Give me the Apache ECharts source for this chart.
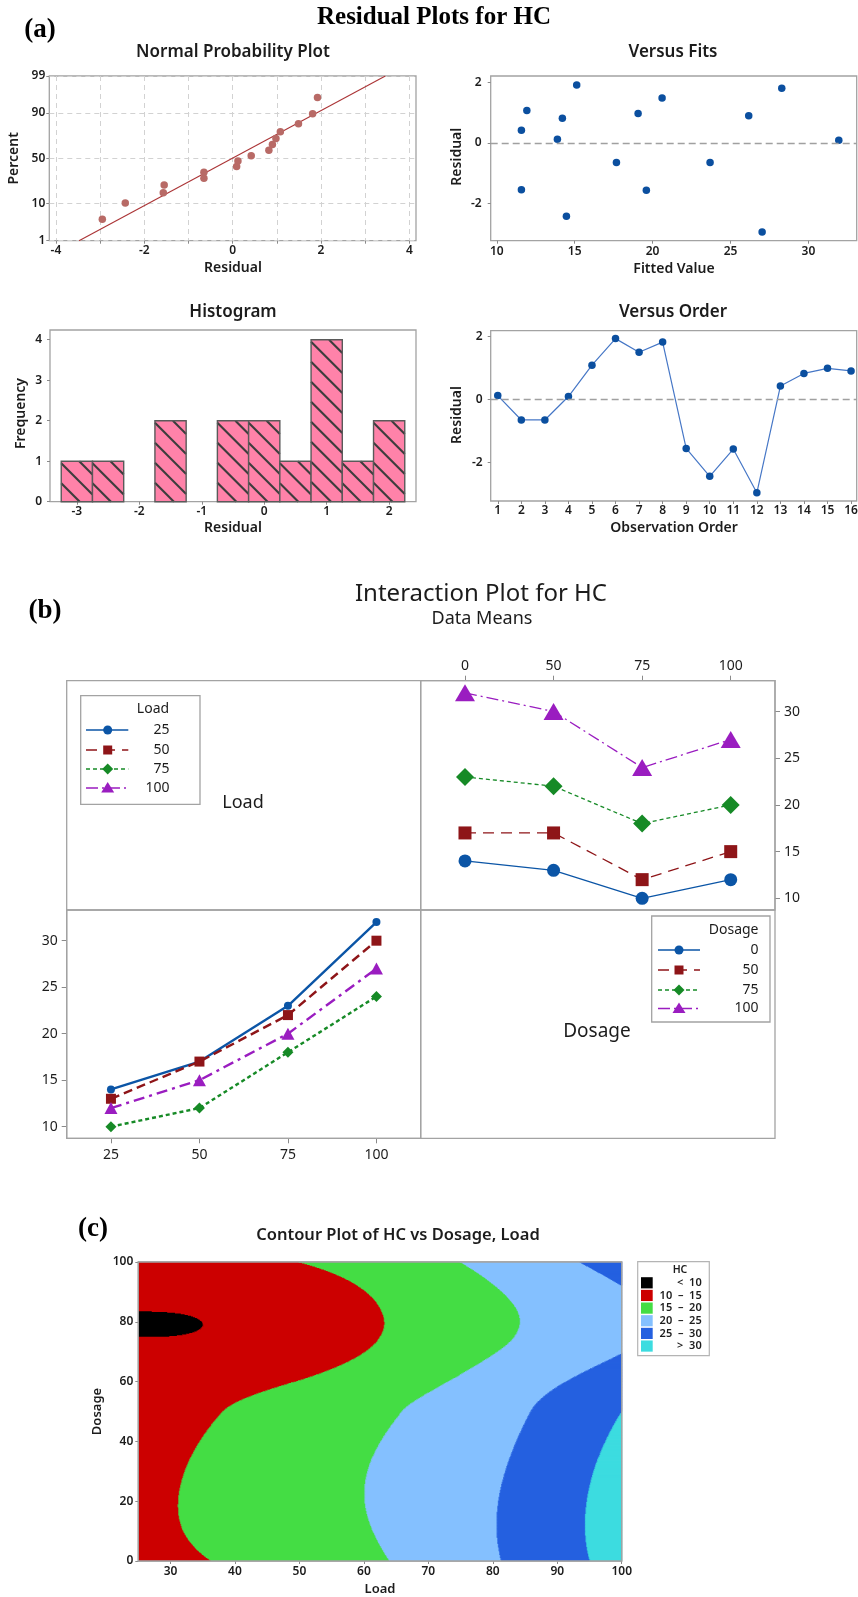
<!DOCTYPE html>
<html>
<head>
<meta charset="utf-8">
<title>Residual, interaction and contour plots for HC</title>
<script src="https://cdn.jsdelivr.net/npm/echarts/dist/echarts.min.js"></script>
<style>
  html, body { margin: 0; padding: 0; background: #ffffff; }
  #chart { width: 858px; height: 1597px; }
</style>
</head>
<body>
<div id="chart"></div>
<script>
// ---------------- data ----------------
// residuals and fitted values, in observation order
const observationOrder = [1, 2, 3, 4, 5, 6, 7, 8, 9, 10, 11, 12, 13, 14, 15, 16];
const residuals = [0.12, -0.65, -0.65, 0.09, 1.08, 1.92, 1.49, 1.81, -1.55, -2.43, -1.57, -2.95, 0.42, 0.82, 0.98, 0.90];
const fittedValues = [13.89, 17.68, 23.69, 31.95, 11.93, 15.13, 20.61, 28.29, 11.58, 14.47, 19.60, 27.03, 11.58, 14.21, 19.07, 26.17];
// normal probability plot: percent position of each ordered residual
const probPercents = [4.3, 10.4, 16.5, 22.6, 28.7, 34.8, 40.9, 47.0, 53.0, 59.1, 65.2, 71.3, 77.4, 83.5, 89.6, 95.7];
const percentTicks = [1, 10, 50, 90, 99];
// histogram of residuals
const histBinCenters = [-3, -2.5, -2, -1.5, -1, -0.5, 0, 0.5, 1, 1.5, 2];
const histCounts = [1, 1, 0, 2, 0, 2, 2, 1, 4, 1, 2];
// HC means by factor level (values in Load order 25, 50, 75, 100)
const loadLevels = ['25', '50', '75', '100'];
const dosageLevels = ['0', '50', '75', '100'];
const hcDosage0 = [14, 17, 23, 32];
const hcDosage50 = [13, 17, 22, 30];
const hcDosage75 = [10, 12, 18, 24];
const hcDosage100 = [12, 15, 20, 27];
// contour class boundaries
const hcContourLevels = [10, 15, 20, 25, 30];

// ---------------- styling ----------------
const FONT = '"Noto Sans", "Open Sans", sans-serif';
const SERIF = '"Liberation Serif", "Times New Roman", serif';
const TEXT = '#1c1c1c';
const FRAME = '#a3a3a3';
const seriesColors = ['#0b55a6', '#8e1518', '#168a26', '#9a1dc0'];
const contourColors = ['#000000', '#cc0000', '#44dd44', '#84c0ff', '#2460e0', '#3cdce0'];

// ---------------- helpers ----------------
function normInv(p) {
  const a = [-3.969683028665376e+01, 2.209460984245205e+02, -2.759285104469687e+02, 1.383577518672690e+02, -3.066479806614716e+01, 2.506628277459239e+00];
  const b = [-5.447609879822406e+01, 1.615858368580409e+02, -1.556989798598866e+02, 6.680131188771972e+01, -1.328068155288572e+01];
  const c = [-7.784894002430293e-03, -3.223964580411365e-01, -2.400758277161838e+00, -2.549732539343734e+00, 4.374664141464968e+00, 2.938163982698783e+00];
  const d = [7.784695709041462e-03, 3.224671290700398e-01, 2.445134137142996e+00, 3.754408661907416e+00];
  const pl = 0.02425;
  if (p < pl) {
    const q = Math.sqrt(-2 * Math.log(p));
    return (((((c[0] * q + c[1]) * q + c[2]) * q + c[3]) * q + c[4]) * q + c[5]) / ((((d[0] * q + d[1]) * q + d[2]) * q + d[3]) * q + 1);
  }
  if (p > 1 - pl) {
    const q = Math.sqrt(-2 * Math.log(1 - p));
    return -(((((c[0] * q + c[1]) * q + c[2]) * q + c[3]) * q + c[4]) * q + c[5]) / ((((d[0] * q + d[1]) * q + d[2]) * q + d[3]) * q + 1);
  }
  const q = p - 0.5, r = q * q;
  return (((((a[0] * r + a[1]) * r + a[2]) * r + a[3]) * r + a[4]) * r + a[5]) * q / (((((b[0] * r + b[1]) * r + b[2]) * r + b[3]) * r + b[4]) * r + 1);
}

// Akima slopes / evaluation used for the contour surface
function akimaSlopes(xs, ys) {
  const n = xs.length;
  const mm = new Array(n + 3);
  for (let i = 0; i < n - 1; i++) mm[i + 2] = (ys[i + 1] - ys[i]) / (xs[i + 1] - xs[i]);
  mm[1] = 2 * mm[2] - mm[3];
  mm[0] = 2 * mm[1] - mm[2];
  mm[n + 1] = 2 * mm[n] - mm[n - 1];
  mm[n + 2] = 2 * mm[n + 1] - mm[n];
  const t = [];
  for (let i = 0; i < n; i++) {
    const w1 = Math.abs(mm[i + 3] - mm[i + 2]);
    const w2 = Math.abs(mm[i + 1] - mm[i]);
    t.push(w1 + w2 < 1e-12 ? (mm[i + 1] + mm[i + 2]) / 2 : (w1 * mm[i + 1] + w2 * mm[i + 2]) / (w1 + w2));
  }
  return t;
}
function akimaEval(xs, ys, t, x) {
  let i = 0;
  while (i < xs.length - 2 && x > xs[i + 1]) i++;
  const h = xs[i + 1] - xs[i], s = (x - xs[i]) / h, s2 = s * s, s3 = s2 * s;
  return (2 * s3 - 3 * s2 + 1) * ys[i] + (s3 - 2 * s2 + s) * h * t[i] + (-2 * s3 + 3 * s2) * ys[i + 1] + (s3 - s2) * h * t[i + 1];
}

function valueAxis(o) {
  return {
    type: 'value', gridIndex: o.grid, min: o.min, max: o.max, position: o.position,
    axisLine: { show: false, onZero: false },
    axisTick: { show: true, customValues: o.ticks, length: o.tickLen || 3, lineStyle: { color: '#8a8a8a', width: 1 } },
    axisLabel: {
      customValues: o.labels || o.ticks, fontSize: o.fs || 12, fontWeight: o.fw || 600,
      color: TEXT, fontFamily: FONT, margin: o.margin, formatter: o.formatter || null
    },
    splitLine: o.split ? { show: true, lineStyle: { color: '#d2d2d2', type: [5, 4], width: 1 } } : { show: false }
  };
}
function categoryAxis(o) {
  return {
    type: 'category', gridIndex: o.grid, data: o.data, position: o.position, boundaryGap: true,
    axisLine: { show: false, onZero: false },
    axisTick: { show: true, alignWithLabel: true, length: 5, lineStyle: { color: '#8a8a8a', width: 1 } },
    axisLabel: { fontSize: 14, color: TEXT, fontFamily: FONT, margin: o.margin },
    splitLine: { show: false }
  };
}
function valueAxisIP(o) {
  return valueAxis(Object.assign({ fs: 14, fw: 'normal', tickLen: 5 }, o));
}
function txt(x, y, text, size, weight, extra) {
  const e = {
    type: 'text', x: x, y: y, z: 100,
    style: {
      text: text, fontSize: size, fontWeight: weight, fontFamily: FONT, fill: TEXT,
      align: 'center', verticalAlign: 'middle'
    }
  };
  return Object.assign(e, extra || {});
}
function serifTxt(x, y, text, size) {
  const e = txt(x, y, text, size, 'bold');
  e.style.fontFamily = SERIF;
  e.style.fill = '#000000';
  return e;
}
function panelGrid(left, top, width, height) {
  return { left: left, top: top, width: width, height: height, show: true, borderColor: FRAME, borderWidth: 1.3, backgroundColor: 'transparent', containLabel: false, outerBoundsMode: 'none' };
}

// ---------------- derived values ----------------
const sortedResiduals = residuals.slice().sort((a, b) => a - b);
const resMean = residuals.reduce((s, v) => s + v, 0) / residuals.length;
const resSd = Math.sqrt(residuals.reduce((s, v) => s + (v - resMean) * (v - resMean), 0) / (residuals.length - 1));
const zMin = normInv(percentTicks[0] / 100);
const zMax = normInv(percentTicks[percentTicks.length - 1] / 100);
const zTicks = percentTicks.map(p => normInv(p / 100));

const hcByDosage = [hcDosage0, hcDosage50, hcDosage75, hcDosage100];
const hcByLoad = loadLevels.map((_, j) => hcByDosage.map(row => row[j]));
const loadNum = loadLevels.map(Number);
const dosageNum = dosageLevels.map(Number);

// contour cells: interpolated surface, split into runs of equal HC class
function hcClass(v) {
  let k = 0;
  while (k < hcContourLevels.length && v >= hcContourLevels[k]) k++;
  return k;
}
const contourCells = [];
(function buildContour() {
  const colSlopes = hcByLoad.map(col => akimaSlopes(dosageNum, col));
  const dStep = 0.25, lStep = 0.1;
  const dMin = dosageNum[0], dMax = dosageNum[dosageNum.length - 1];
  const lMin = loadNum[0], lMax = loadNum[loadNum.length - 1];
  const nD = Math.round((dMax - dMin) / dStep), nL = Math.round((lMax - lMin) / lStep);
  for (let yi = 0; yi <= nD; yi++) {
    const yv = dMin + yi * dStep;
    const y0 = Math.max(dMin, yv - dStep / 2), y1 = Math.min(dMax, yv + dStep / 2);
    const rowVals = hcByLoad.map((col, j) => akimaEval(dosageNum, col, colSlopes[j], yv));
    const rowSlopes = akimaSlopes(loadNum, rowVals);
    let start = lMin, cls = null;
    for (let xi = 0; xi <= nL; xi++) {
      const xv = lMin + xi * lStep;
      const c = hcClass(akimaEval(loadNum, rowVals, rowSlopes, xv));
      if (cls === null) { cls = c; }
      else if (c !== cls) {
        const edge = xv - lStep / 2;
        contourCells.push([start, edge, y0, y1, cls]);
        start = edge; cls = c;
      }
    }
    contourCells.push([start, lMax, y0, y1, cls]);
  }
})();

// ---------------- chart ----------------
const chart = echarts.init(document.getElementById('chart'), null, { renderer: 'canvas', width: 858, height: 1597 });

const grids = [
  panelGrid(49.3, 76, 366.7, 164.7),     // 0 normal probability
  panelGrid(490.7, 76, 366, 164.7),      // 1 versus fits
  panelGrid(50, 330, 366, 171.7),        // 2 histogram
  panelGrid(490.7, 330.7, 366, 170.3),   // 3 versus order
  panelGrid(420.7, 680.7, 354.3, 229.3), // 4 HC vs Dosage by Load
  panelGrid(66.7, 910, 354, 228.3),      // 5 HC vs Load by Dosage
  panelGrid(138.3, 1262, 483.4, 299)     // 6 contour
];

const xAxes = [
  valueAxis({ grid: 0, min: -4.15, max: 4.15, ticks: [-4, -3, -2, -1, 0, 1, 2, 3, 4], labels: [-4, -2, 0, 2, 4], split: true, margin: 4 }),
  valueAxis({ grid: 1, min: 9.61, max: 33.1, ticks: [10, 15, 20, 25, 30], margin: 5 }),
  valueAxis({ grid: 2, min: -3.43, max: 2.43, ticks: [-3, -2, -1, 0, 1, 2], margin: 4 }),
  valueAxis({ grid: 3, min: 0.7, max: 16.24, ticks: observationOrder, margin: 4 }),
  categoryAxis({ grid: 4, data: dosageLevels, position: 'top', margin: 8 }),
  categoryAxis({ grid: 5, data: loadLevels, position: 'bottom', margin: 10 }),
  valueAxis({ grid: 6, min: loadNum[0], max: loadNum[3], ticks: [30, 40, 50, 60, 70, 80, 90, 100], margin: 5 })
];
const yAxes = [
  valueAxis({
    grid: 0, min: zMin, max: zMax, ticks: zTicks, split: true, margin: 4,
    formatter: function (v) {
      let best = 0;
      zTicks.forEach((z, i) => { if (Math.abs(z - v) < Math.abs(zTicks[best] - v)) best = i; });
      return String(percentTicks[best]);
    }
  }),
  valueAxis({ grid: 1, min: -3.24, max: 2.22, ticks: [-2, 0, 2], margin: 9 }),
  valueAxis({ grid: 2, min: 0, max: 4.24, ticks: [0, 1, 2, 3, 4], margin: 8 }),
  valueAxis({ grid: 3, min: -3.21, max: 2.17, ticks: [-2, 0, 2], margin: 8 }),
  valueAxisIP({ grid: 4, min: 8.75, max: 33.3, ticks: [10, 15, 20, 25, 30], position: 'right', margin: 9 }),
  valueAxisIP({ grid: 5, min: 8.75, max: 33.3, ticks: [10, 15, 20, 25, 30], position: 'left', margin: 9 }),
  valueAxis({ grid: 6, min: 0, max: 100, ticks: [0, 20, 40, 60, 80, 100], margin: 5 })
];

const zeroLine = {
  silent: true, symbol: ['none', 'none'], label: { show: false },
  lineStyle: { color: '#a0a0a0', type: [7, 4], width: 1.4 },
  data: [{ yAxis: 0 }]
};

const binHalf = (histBinCenters[1] - histBinCenters[0]) / 2;

const series = [];
// normal probability plot
series.push({
  type: 'line', xAxisIndex: 0, yAxisIndex: 0, symbol: 'none', silent: true,
  data: [[resMean + resSd * zMin, zMin], [resMean + resSd * zMax, zMax]],
  lineStyle: { color: '#ab3436', width: 1.1 }, z: 2
});
series.push({
  type: 'scatter', xAxisIndex: 0, yAxisIndex: 0, symbolSize: 7.5, silent: true,
  data: sortedResiduals.map((r, i) => [r, normInv(probPercents[i] / 100)]),
  itemStyle: { color: '#b86a66', opacity: 1 }, z: 3
});
// versus fits
series.push({
  type: 'scatter', xAxisIndex: 1, yAxisIndex: 1, symbolSize: 7.5, silent: true,
  data: fittedValues.map((f, i) => [f, residuals[i]]),
  itemStyle: { color: '#0b4f9f', opacity: 1 }, markLine: zeroLine, z: 3
});
// histogram with hatched bars
series.push({
  type: 'custom', xAxisIndex: 2, yAxisIndex: 2, silent: true,
  data: histBinCenters.map((c, i) => [c, histCounts[i]]),
  renderItem: function (params, api) {
    const c = api.value(0), n = api.value(1);
    if (!(n > 0)) return { type: 'group', children: [] };
    const tl = api.coord([c - binHalf, n]);
    const br = api.coord([c + binHalf, 0]);
    const x0 = tl[0], y0 = tl[1], x1 = br[0], y1 = br[1];
    const children = [{
      type: 'rect', shape: { x: x0, y: y0, width: x1 - x0, height: y1 - y0 },
      style: { fill: '#ff82a9' }
    }];
    const step = 20, base = y0 - x0 + 2;
    const kFrom = Math.ceil(((y0 - x1) - base) / step), kTo = Math.floor(((y1 - x0) - base) / step);
    for (let k = kFrom; k <= kTo; k++) {
      const cc = base + k * step;
      const xa = Math.max(x0, y0 - cc), xb = Math.min(x1, y1 - cc);
      if (xb - xa > 0.8) {
        children.push({
          type: 'line', shape: { x1: xa, y1: xa + cc, x2: xb, y2: xb + cc },
          style: { stroke: '#3d3d3d', lineWidth: 2.1 }
        });
      }
    }
    children.push({
      type: 'rect', shape: { x: x0, y: y0, width: x1 - x0, height: y1 - y0 },
      style: { fill: 'none', stroke: '#5a5a5a', lineWidth: 1.4 }
    });
    return { type: 'group', children: children };
  },
  z: 3
});
// versus order
series.push({
  type: 'line', xAxisIndex: 3, yAxisIndex: 3, silent: true,
  data: observationOrder.map((o, i) => [o, residuals[i]]),
  symbol: 'circle', symbolSize: 7.5,
  lineStyle: { color: '#4677c6', width: 1.2 },
  itemStyle: { color: '#0b4f9f' },
  markLine: zeroLine, z: 3
});

// interaction plots
const markerShapes = ['circle', 'rect', 'diamond', 'triangle'];
const dashTop = ['solid', [11, 7], [4, 3], [12, 4, 2, 4]];
const dashBottom = ['solid', [9, 5], [4, 3], [11, 5, 3, 5]];
const sizeTop = [13, 13, 18, [20, 17]];
const sizeBottom = [8, 10, 11, [13, 12]];
hcByLoad.forEach((vals, k) => {
  series.push({
    type: 'line', xAxisIndex: 4, yAxisIndex: 4, silent: true, name: 'Load ' + loadLevels[k],
    data: vals, symbol: markerShapes[k], symbolSize: sizeTop[k],
    lineStyle: { color: seriesColors[k], width: 1.3, type: dashTop[k] },
    itemStyle: { color: seriesColors[k] }, z: 3 + k
  });
});
hcByDosage.forEach((vals, k) => {
  series.push({
    type: 'line', xAxisIndex: 5, yAxisIndex: 5, silent: true, name: 'Dosage ' + dosageLevels[k],
    data: vals, symbol: markerShapes[k], symbolSize: sizeBottom[k],
    lineStyle: { color: seriesColors[k], width: 2.4, type: dashBottom[k] },
    itemStyle: { color: seriesColors[k] }, z: 3 + k
  });
});

// contour of HC over Load x Dosage
series.push({
  type: 'custom', xAxisIndex: 6, yAxisIndex: 6, silent: true, clip: true,
  data: contourCells,
  encode: { x: [0, 1], y: [2, 3] },
  renderItem: function (params, api) {
    const p0 = api.coord([api.value(0), api.value(3)]);
    const p1 = api.coord([api.value(1), api.value(2)]);
    return {
      type: 'rect',
      shape: { x: p0[0] - 0.4, y: p0[1] - 0.4, width: p1[0] - p0[0] + 0.8, height: p1[1] - p0[1] + 0.8 },
      style: { fill: contourColors[api.value(4)] }
    };
  },
  z: 2
});

// ---------------- texts, frames and legends ----------------
const g = [];
// (a) residual plots
g.push(serifTxt(40, 30, '(a)', 27));
g.push(serifTxt(434, 18, 'Residual Plots for HC', 25));
g.push(txt(233, 52, 'Normal Probability Plot', 17, 600));
g.push(txt(673, 52, 'Versus Fits', 17, 600));
g.push(txt(233, 312, 'Histogram', 17, 600));
g.push(txt(673, 312, 'Versus Order', 17, 600));
g.push(txt(233, 268, 'Residual', 14, 600));
g.push(txt(674, 269.5, 'Fitted Value', 14, 600));
g.push(txt(233, 528.5, 'Residual', 14, 600));
g.push(txt(674, 528.5, 'Observation Order', 14, 600));
g.push(txt(14.5, 158.3, 'Percent', 14, 600, { rotation: Math.PI / 2 }));
g.push(txt(457, 156.7, 'Residual', 14, 600, { rotation: Math.PI / 2 }));
g.push(txt(21.5, 413.5, 'Frequency', 14, 600, { rotation: Math.PI / 2 }));
g.push(txt(457, 415, 'Residual', 14, 600, { rotation: Math.PI / 2 }));

// (b) interaction plot
g.push(serifTxt(45, 611, '(b)', 27));
g.push(txt(481, 594, 'Interaction Plot for HC', 24, 'normal'));
g.push(txt(482, 619, 'Data Means', 18, 'normal'));
g.push({ type: 'rect', z: 90, shape: { x: 66.7, y: 680.7, width: 708.3, height: 457.6 }, style: { fill: 'none', stroke: FRAME, lineWidth: 1.3 } });
g.push({ type: 'line', z: 90, shape: { x1: 420.7, y1: 680.7, x2: 420.7, y2: 1138.3 }, style: { stroke: FRAME, lineWidth: 1.3 } });
g.push({ type: 'line', z: 90, shape: { x1: 66.7, y1: 910, x2: 775, y2: 910 }, style: { stroke: FRAME, lineWidth: 1.3 } });
g.push(txt(243, 803, 'Load', 18, 'normal'));
g.push(txt(597, 1032, 'Dosage', 19, 'normal'));

function legendMarker(k, cx, cy) {
  const color = seriesColors[k];
  if (k === 0) return { type: 'circle', z: 101, shape: { cx: cx, cy: cy, r: 4.5 }, style: { fill: color } };
  if (k === 1) return { type: 'rect', z: 101, shape: { x: cx - 4.5, y: cy - 4.5, width: 9, height: 9 }, style: { fill: color } };
  if (k === 2) return { type: 'polygon', z: 101, shape: { points: [[cx, cy - 5.5], [cx + 5.5, cy], [cx, cy + 5.5], [cx - 5.5, cy]] }, style: { fill: color } };
  return { type: 'polygon', z: 101, shape: { points: [[cx, cy - 6], [cx + 6.5, cy + 4.5], [cx - 6.5, cy + 4.5]] }, style: { fill: color } };
}
function interactionLegend(box, titleX, titleY, title, titleAlign, labels, lineX0, lineX1, markX, labelX, rowY) {
  g.push({ type: 'rect', z: 99, shape: box, style: { fill: '#ffffff', stroke: FRAME, lineWidth: 1.3 } });
  const tt = txt(titleX, titleY, title, 14, 'normal');
  tt.style.align = titleAlign;
  g.push(tt);
  labels.forEach((lab, k) => {
    const y = rowY[k];
    const dash = dashTop[k] === 'solid' ? null : dashTop[k];
    g.push({ type: 'line', z: 100, shape: { x1: lineX0, y1: y, x2: lineX1, y2: y }, style: { stroke: seriesColors[k], lineWidth: 1.4, lineDash: dash } });
    g.push(legendMarker(k, markX, y));
    const t = txt(labelX, y, lab, 14, 'normal');
    t.style.align = 'right';
    g.push(t);
  });
}
interactionLegend({ x: 80.7, y: 695.7, width: 119.3, height: 108.6 }, 153, 709, 'Load', 'center', loadLevels,
  86, 128.3, 107.7, 169.5, [730, 750, 769, 788]);
interactionLegend({ x: 651.7, y: 916, width: 118.3, height: 106 }, 758.5, 930, 'Dosage', 'right', dosageLevels,
  658, 700, 679, 758.5, [950, 970, 990, 1008.5]);

// (c) contour plot
g.push(serifTxt(93, 1229, '(c)', 27));
g.push(txt(398, 1235.5, 'Contour Plot of HC vs Dosage, Load', 16.5, 600));
g.push(txt(97.5, 1411.5, 'Dosage', 13, 600, { rotation: Math.PI / 2 }));
g.push(txt(380, 1589, 'Load', 13, 600));
g.push({ type: 'rect', z: 90, shape: { x: 138.3, y: 1262, width: 483.4, height: 299 }, style: { fill: 'none', stroke: FRAME, lineWidth: 1.3 } });
// HC class legend
const hcLegendLabels = ['<  ' + hcContourLevels[0]];
for (let i = 0; i < hcContourLevels.length - 1; i++) hcLegendLabels.push(hcContourLevels[i] + '  \u2013  ' + hcContourLevels[i + 1]);
hcLegendLabels.push('>  ' + hcContourLevels[hcContourLevels.length - 1]);
g.push({ type: 'rect', z: 99, shape: { x: 637.7, y: 1261.7, width: 71.6, height: 94 }, style: { fill: '#ffffff', stroke: '#b4b4b4', lineWidth: 1.2 } });
g.push(txt(680, 1270.5, 'HC', 10.5, 600));
hcLegendLabels.forEach((lab, k) => {
  const y = 1282.8 + k * 12.65;
  g.push({ type: 'rect', z: 100, shape: { x: 641, y: y - 5.6, width: 11.7, height: 11.2 }, style: { fill: contourColors[k] } });
  const t = txt(701.7, y, lab, 11, 600);
  t.style.align = 'right';
  g.push(t);
});

chart.setOption({
  animation: false,
  backgroundColor: '#ffffff',
  textStyle: { fontFamily: FONT },
  grid: grids,
  xAxis: xAxes,
  yAxis: yAxes,
  series: series,
  graphic: { elements: g }
});
</script>
</body>
</html>
